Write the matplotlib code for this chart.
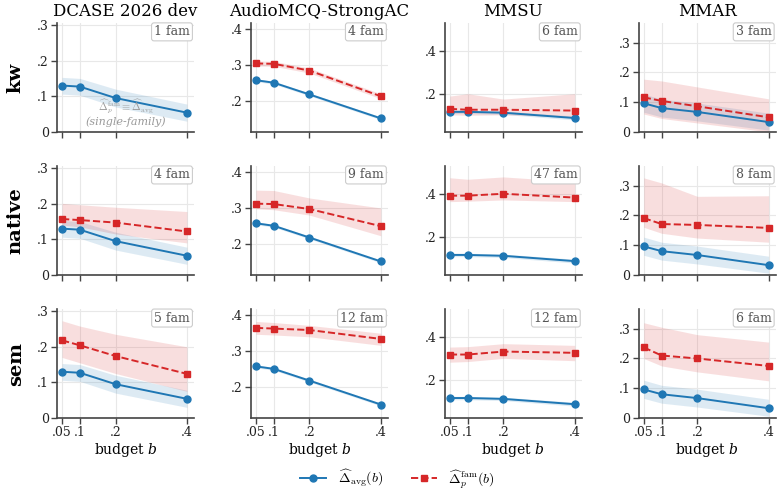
import matplotlib
matplotlib.use("Agg")
import matplotlib.pyplot as plt
import numpy as np

plt.rcParams['font.family'] = 'DejaVu Serif'
plt.rcParams['mathtext.fontset'] = 'cm'

budgets = [0.05, 0.1, 0.2, 0.4]
budget_labels = ['.05', '.1', '.2', '.4']
datasets = ['DCASE 2026 dev', 'AudioMCQ-StrongAC', 'MMSU', 'MMAR']
rows = ['kw', 'native', 'sem']
n_fam = [[1, 4, 6, 3],
         [4, 9, 47, 8],
         [5, 12, 12, 6]]

# Delta_avg (same in every row), per dataset: mean, lower, upper
avg_mean = [[0.130, 0.127, 0.095, 0.054],
            [0.257, 0.250, 0.217, 0.150],
            [0.114, 0.114, 0.110, 0.085],
            [0.096, 0.080, 0.067, 0.033]]
avg_lo = [[0.106, 0.103, 0.070, 0.030],
          [0.253, 0.246, 0.213, 0.146],
          [0.106, 0.106, 0.102, 0.076],
          [0.066, 0.050, 0.037, 0.006]]
avg_hi = [[0.153, 0.150, 0.120, 0.078],
          [0.261, 0.254, 0.221, 0.154],
          [0.122, 0.122, 0.118, 0.094],
          [0.127, 0.110, 0.097, 0.063]]

# Delta_p^fam per row and dataset (None = single family)
fam_mean = [
    [None,
     [0.304, 0.303, 0.284, 0.212],
     [0.128, 0.124, 0.124, 0.120],
     [0.116, 0.104, 0.086, 0.049]],
    [[0.157, 0.154, 0.147, 0.122],
     [0.312, 0.311, 0.297, 0.249],
     [0.392, 0.392, 0.401, 0.383],
     [0.191, 0.171, 0.168, 0.158]],
    [[0.218, 0.204, 0.174, 0.124],
     [0.365, 0.363, 0.359, 0.334],
     [0.318, 0.318, 0.332, 0.326],
     [0.237, 0.210, 0.200, 0.175]],
]
fam_lo = [
    [None,
     [0.297, 0.296, 0.277, 0.205],
     [0.100, 0.098, 0.100, 0.090],
     [0.060, 0.045, 0.030, 0.000]],
    [[0.140, 0.135, 0.115, 0.090],
     [0.298, 0.295, 0.280, 0.222],
     [0.364, 0.366, 0.372, 0.364],
     [0.160, 0.140, 0.124, 0.110]],
    [[0.170, 0.155, 0.125, 0.075],
     [0.347, 0.345, 0.340, 0.316],
     [0.282, 0.285, 0.300, 0.289],
     [0.200, 0.175, 0.155, 0.125]],
]
fam_hi = [
    [None,
     [0.311, 0.310, 0.291, 0.219],
     [0.188, 0.199, 0.174, 0.199],
     [0.177, 0.171, 0.151, 0.111]],
    [[0.201, 0.197, 0.190, 0.178],
     [0.350, 0.349, 0.328, 0.300],
     [0.476, 0.469, 0.480, 0.458],
     [0.326, 0.309, 0.264, 0.266]],
    [[0.273, 0.258, 0.235, 0.200],
     [0.383, 0.380, 0.372, 0.350],
     [0.353, 0.355, 0.369, 0.361],
     [0.320, 0.305, 0.280, 0.255]],
]

ylims = [(0, 0.305), (0.112, 0.417), (0.02, 0.53), (0, 0.365)]
yticks = [[0, 0.1, 0.2, 0.3], [0.2, 0.3, 0.4], [0.2, 0.4], [0, 0.1, 0.2, 0.3]]

BLUE = '#1f77b4'
RED = '#d62728'
SPINE = '#444444'


def fmt(v):
    if v == 0:
        return '0'
    return ('%g' % v).lstrip('0')


fig, axes = plt.subplots(3, 4, figsize=(7.82, 4.93), dpi=100)
fig.subplots_adjust(left=0.073, right=0.992, top=0.953, bottom=0.152,
                    wspace=0.416, hspace=0.316)

for r in range(3):
    for c in range(4):
        ax = axes[r, c]
        ax.fill_between(budgets, avg_lo[c], avg_hi[c], color=BLUE, alpha=0.15, lw=0)
        ax.plot(budgets, avg_mean[c], color=BLUE, marker='o', ms=5, lw=1.4, zorder=3)
        if fam_mean[r][c] is not None:
            ax.fill_between(budgets, fam_lo[r][c], fam_hi[r][c], color=RED, alpha=0.15, lw=0)
            ax.plot(budgets, fam_mean[r][c], color=RED, marker='s', ms=5, lw=1.4,
                    ls='--', zorder=3)
        else:
            ax.text(0.5, 0.23, r'$\widehat{\Delta}_p^{\rm fam}\equiv\widehat{\Delta}_{\rm avg}$',
                    transform=ax.transAxes, ha='center', va='center', fontsize=7.5,
                    color='#999999')
            ax.text(0.5, 0.09, '(single-family)', transform=ax.transAxes,
                    ha='center', va='center', fontsize=8, color='#999999', style='italic')

        ax.text(0.97, 0.92, f'{n_fam[r][c]} fam', transform=ax.transAxes,
                ha='right', va='center', fontsize=9, color='#555555',
                bbox=dict(boxstyle='round,pad=0.2', fc='white', ec='#cccccc', lw=0.8))

        ax.set_xlim(0.036, 0.42)
        ax.set_ylim(*ylims[c])
        ax.set_xticks(budgets)
        ax.set_yticks(yticks[c])
        ax.set_yticklabels([fmt(v) for v in yticks[c]])
        if r == 2:
            ax.set_xticklabels(budget_labels)
            ax.set_xlabel('budget $b$', fontsize=10, labelpad=1,
                          math_fontfamily='dejavuserif')
        else:
            ax.set_xticklabels([])
        if r == 0:
            ax.set_title(datasets[c], fontsize=12, pad=5)

        ax.grid(True, color='#e8e8e8', lw=0.8)
        ax.set_axisbelow(True)
        for s in ['top', 'right']:
            ax.spines[s].set_visible(False)
        for s in ['left', 'bottom']:
            ax.spines[s].set_color(SPINE)
            ax.spines[s].set_linewidth(1.2)
        ax.tick_params(colors=SPINE, labelcolor='#222222', labelsize=9,
                       length=4, width=1.0, direction='out', pad=2)

for r, name in enumerate(rows):
    pos = axes[r, 0].get_position()
    fig.text(0.02, (pos.y0 + pos.y1) / 2, name, rotation=90, ha='center',
             va='center', fontsize=14, fontweight='bold')

handles = [
    plt.Line2D([], [], color=BLUE, marker='o', ms=5, lw=1.4),
    plt.Line2D([], [], color=RED, marker='s', ms=5, lw=1.4, ls='--'),
]
labels = [r'$\widehat{\Delta}_{\rm avg}(b)$', r'$\widehat{\Delta}_p^{\rm fam}(b)$']
fig.legend(handles, labels, loc='center', bbox_to_anchor=(0.508, 0.028),
           ncol=2, frameon=False, fontsize=10, handlelength=1.9, columnspacing=2.0)

fig.savefig('out.png', dpi=100)
